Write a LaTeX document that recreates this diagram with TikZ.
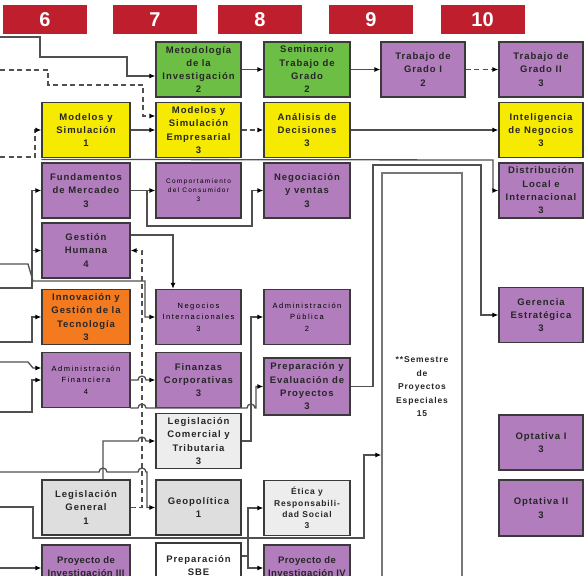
\documentclass[tikz,border=0pt]{standalone}
\usepackage{fontspec}
\setmainfont{Liberation Sans}
\newfontfamily\lab{Liberation Sans}[LetterSpace=10]
\newfontfamily\labn{Liberation Sans}[LetterSpace=4]
\newfontfamily\labw{Liberation Sans}[LetterSpace=20]
\usetikzlibrary{arrows.meta}
\definecolor{hdrred}{HTML}{BF1E2D}
\definecolor{cpur}{HTML}{B27DBD}
\definecolor{cyel}{HTML}{F6EA00}
\definecolor{cgrn}{HTML}{6DBE45}
\definecolor{corg}{HTML}{F47A20}
\definecolor{cgra}{HTML}{DEDEDE}
\definecolor{cgrb}{HTML}{EDEDED}
\definecolor{bord}{HTML}{3A3A3A}
\definecolor{linec}{HTML}{505050}
\definecolor{semb}{HTML}{777777}
\definecolor{txt}{HTML}{262626}
\definecolor{shad}{HTML}{9A9A9A}
\begin{document}
\begin{tikzpicture}[x=1pt,y=-1pt,
 box/.style={draw=bord, line width=1.2pt, minimum width=86pt, minimum height=55pt, align=center, inner sep=1pt, text=txt, font=\lab\bfseries\fontsize{9.5}{13.3}\selectfont},
 hdr/.style={fill=hdrred, minimum width=84pt, minimum height=29pt, text=white, font=\bfseries\fontsize{20}{20}\selectfont, inner sep=0pt},
 conn/.style={draw=linec, line width=1.3pt},
 arr/.style={conn, -{Latex[length=6pt,width=5pt,color=black]}},
 darr/.style={arr, dash pattern=on 5pt off 3.5pt},
 smalltxt/.style={text=black, font=\labw\fontsize{7.5}{11.5}\selectfont},
 tinytxt/.style={text=black, font=\labw\fontsize{6.5}{9}\selectfont}]
\useasboundingbox (0,0) rectangle (588,575);
\clip (0,0) rectangle (588,575);
\fill[white] (0,0) rectangle (588,575);
% headers
\node[hdr] (h6) at (45,19.5) {6};
\node[hdr] (h7) at (155,19.5) {7};
\node[hdr] (h8) at (260,19.5) {8};
\node[hdr] (h9) at (371,19.5) {9};
\node[hdr] (h10) at (482.5,19.5) {10};
% row 1
\node[box, fill=cgrn, minimum width=85pt] (met) at (198.5,69.5) {Metodología\\de la\\Investigación\\2};
\node[box, fill=cgrn] (sem) at (307,69.5) {Seminario\\Trabajo de\\Grado\\2};
\node[box, fill=cpur, minimum width=84pt] (tg1) at (423,69.5) {Trabajo de\\Grado I\\2};
\node[box, fill=cpur, minimum width=84pt] (tg2) at (541,69.5) {Trabajo de\\Grado II\\3};
% row 2
\node[box, fill=cyel, minimum width=88pt] (ms) at (86,130) {Modelos y\\Simulación\\1};
\node[box, fill=cyel, minimum width=85pt] (mse) at (198.5,130) {Modelos y\\Simulación\\Empresarial\\3};
\node[box, fill=cyel] (ad) at (307,130) {Análisis de\\Decisiones\\3};
\node[box, fill=cyel, minimum width=84pt] (int) at (541,130) {Inteligencia\\de Negocios\\3};
% row 3
\node[box, fill=cpur, minimum width=88pt] (fund) at (86,190.5) {Fundamentos\\de Mercadeo\\3};
\node[box, fill=cpur, minimum width=85pt, tinytxt] (cc) at (198.5,190.5) {Comportamiento\\del Consumidor\\3};
\node[box, fill=cpur] (nv) at (307,190.5) {Negociación\\y ventas\\3};
\node[box, fill=cpur, minimum width=84pt] (dist) at (541,190.5) {Distribución\\Local e\\Internacional\\3};
% row 4
\node[box, fill=cpur, minimum width=88pt] (gh) at (86,250.5) {Gestión\\Humana\\4};
% row 5
\node[box, fill=corg, minimum width=88pt] (inn) at (86,317) {Innovación y\\Gestión de la\\Tecnología\\3};
\node[box, fill=cpur, minimum width=85pt, smalltxt] (ni) at (198.5,317) {Negocios\\Internacionales\\3};
\node[box, fill=cpur, smalltxt] (ap) at (307,317) {Administración\\Pública\\2};
\node[box, fill=cpur, minimum width=84pt] (ge) at (541,315) {Gerencia\\Estratégica\\3};
% row 6
\node[box, fill=cpur, minimum width=88pt, smalltxt] (af) at (86,380) {Administración\\Financiera\\4};
\node[box, fill=cpur, minimum width=85pt] (fc) at (198.5,380) {Finanzas\\Corporativas\\3};
\node[box, fill=cpur, minimum height=57pt] (pe) at (307,386.5) {Preparación y\\Evaluación de\\Proyectos\\3};
\node[box, fill=cgrb, minimum width=85pt] (lct) at (198.5,441) {Legislación\\Comercial y\\Tributaria\\3};
\node[box, fill=cpur, minimum width=84pt] (opt1) at (541,442.5) {Optativa I\\3};
% row 8
\node[box, fill=cgra, minimum width=88pt] (lg) at (86,507.5) {Legislación\\General\\1};
\node[box, fill=cgra, minimum width=85pt] (geo) at (198.5,507.5) {Geopolítica\\1};
\node[box, fill=cgrb, font=\lab\bfseries\fontsize{8.5}{11.3}\selectfont] (eti) at (307,508) {Ética y\\Responsabili-\\dad Social\\3};
\node[box, fill=cpur, minimum width=84pt, minimum height=56pt] (opt2) at (541,508) {Optativa II\\3};
% bottom row (cut by the frame)
\node[box, fill=cpur, minimum width=88pt, minimum height=56pt, font=\labn\bfseries\fontsize{9.5}{13.3}\selectfont] (p1) at (86,573) {Proyecto de\\Investigación III\\3};
\node[box, fill=white, minimum width=85pt, minimum height=58pt] (sbe) at (198.5,572) {Preparación\\SBE\\\phantom{0}};
\node[box, fill=cpur, minimum height=56pt, font=\labn\bfseries\fontsize{9.5}{13.3}\selectfont] (p3) at (307,573) {Proyecto de\\Investigación IV\\3};
% semestre
\node[draw=semb, line width=1.3pt, minimum width=80pt, minimum height=428pt, align=center, text=txt, font=\lab\bfseries\fontsize{8.5}{13.5}\selectfont] (sps) at (422,387) {**Semestre\\de\\Proyectos\\Especiales\\15};
% free ends on the left edge
\coordinate (L1) at (0,37);
\coordinate (L2) at (0,70);
\coordinate (L3) at (0,157);
\coordinate (L4) at (0,264);
\coordinate (L5) at (0,288);
\coordinate (L6) at (0,342);
\coordinate (L7) at (0,362);
\coordinate (L8) at (0,412);
\coordinate (L9) at (0,472);
\coordinate (L10) at (0,507);
\coordinate (L11) at (0,568);
% connectors
\draw[arr] (L1) -- (40,37) -- (40,57) -- (127,57) -- (127,76) -- ([yshift=-6.5pt]met.west);
\draw[darr] (L2) -- (48,70) -- (48,85) -- (143,85) -- (143,116) -- ([yshift=14pt]mse.west);
\draw[arr] (met.east) -- (sem.west);
\draw[arr] (ms.east) -- (mse.west);
\draw[darr] (mse.east) -- (ad.west);
\draw[darr] (L3) -- (35,157) -- (35,130) -- (ms.west);
\draw[arr] (sem.east) -- (tg1.west);
\draw[darr] (tg1.east) -- (tg2.west);
\draw[arr] (ad.east) -- (int.west);
\draw[arr] ([yshift=3pt]fund.north west) -- (493,160) |- (dist.west);
\draw[arr] (fund.east) -- (cc.west);
\draw[arr] (fund.east) -- (147,190.5) |- (252,226) |- (nv.west);
\draw[arr] (L5) -- (32,288) |- (fund.west);
\draw[arr] (32,250.5) -- (gh.west);
\draw[arr] (L4) -- (28,264) -- (33,281) -- (145,281) |- (ni.west);
\draw[arr] ([yshift=15.5pt]gh.east) -| ([xshift=-25.5pt]ni.north);
\draw[darr] (lg.east) -- (142,507.5) |- (gh.east);
\draw[arr] (L6) -- (32,342) |- (inn.west);
\draw[arr] (L7) -- (28,362) -- (33,368) -- ([yshift=12pt]af.west);
\draw[arr] (L8) -- (32,412) |- (af.west);
\draw[arr] (af.east) -- (138,380) arc[start angle=180,end angle=0,radius=4pt] -- (fc.west);
\draw[arr] (af.south east) -- (138,408) arc[start angle=180,end angle=0,radius=4pt] -- (247,408) arc[start angle=180,end angle=0,radius=4pt] -- (256,408) |- (pe.west);
\draw[arr] (lct.east) -- (251,441) |- (ap.west);
\draw[arr] ([xshift=17pt]lg.north) |- (138,441) arc[start angle=180,end angle=0,radius=4pt] -- (lct.west);
\draw[arr] (L9) -- (99,472) arc[start angle=180,end angle=0,radius=4pt] -- (138,472) arc[start angle=180,end angle=0,radius=4pt] -- (147,472) |- (geo.west);
\draw[arr] (L10) -- (33,507) -- (33,538) -- (364,538) |- ([yshift=-68pt]sps.west);
\draw[arr] ([yshift=16pt]sbe.east) -- (248,556) |- (eti.west);
\draw[arr] (248,556) |- ([yshift=5pt]p3.west);
\draw[arr] (pe.east) -- (373,386.5) |- (481,165) |- (ge.west);
\draw[arr] (L11) -- ([yshift=5pt]p1.west);
\end{tikzpicture}
\end{document}
